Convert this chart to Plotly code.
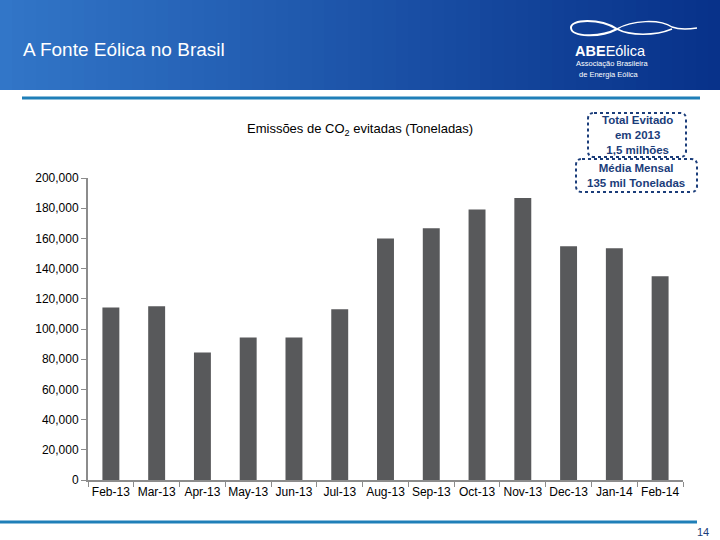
import plotly.graph_objects as go

months = ["Feb-13", "Mar-13", "Apr-13", "May-13", "Jun-13", "Jul-13", "Aug-13",
          "Sep-13", "Oct-13", "Nov-13", "Dec-13", "Jan-14", "Feb-14"]
co2_avoided = [114300, 115000, 84400, 94400, 94400, 113000, 160000,
               166800, 179200, 186700, 154800, 153500, 134900]
y_ticks = [0, 20000, 40000, 60000, 80000, 100000, 120000, 140000, 160000, 180000, 200000]

W, H = 720, 540
FONT = "Liberation Sans, Arial, sans-serif"
NAVY = "#1b3d7a"


def px(x):
    return x / W


def py(y):
    return 1 - y / H


def rounded_box(x0, y0, x1, y1, r=6):
    # path in paper coords from pixel corners
    return ("M %f %f L %f %f Q %f %f %f %f L %f %f Q %f %f %f %f "
            "L %f %f Q %f %f %f %f L %f %f Q %f %f %f %f Z") % (
        px(x0 + r), py(y0), px(x1 - r), py(y0), px(x1), py(y0), px(x1), py(y0 + r),
        px(x1), py(y1 - r), px(x1), py(y1), px(x1 - r), py(y1),
        px(x0 + r), py(y1), px(x0), py(y1), px(x0), py(y1 - r),
        px(x0), py(y0 + r), px(x0), py(y0), px(x0 + r), py(y0))


def curve(*pts):
    p = "M %f %f" % (px(pts[0][0]), py(pts[0][1]))
    rest = pts[1:]
    for i in range(0, len(rest), 3):
        a, b, c = rest[i:i + 3]
        p += " C %f %f, %f %f, %f %f" % (px(a[0]), py(a[1]), px(b[0]), py(b[1]), px(c[0]), py(c[1]))
    return p


fig = go.Figure()
fig.add_trace(go.Bar(x=months, y=co2_avoided, marker=dict(color="#58595b", line=dict(width=0)),
                     showlegend=False, hoverinfo="skip"))

shapes = []
# header banner as a stepped gradient
n = 60
c0, c1 = (50, 118, 200), (8, 50, 138)
for i in range(n):
    t = i / (n - 1)
    col = "rgb(%d,%d,%d)" % tuple(int(a + (b - a) * t) for a, b in zip(c0, c1))
    shapes.append(dict(type="rect", xref="paper", yref="paper", layer="below",
                       x0=i / n, x1=(i + 1) / n + 0.002, y0=py(90), y1=1,
                       fillcolor=col, line=dict(width=0)))
# rule lines
shapes.append(dict(type="line", xref="paper", yref="paper", x0=px(22), x1=px(700),
                   y0=py(98), y1=py(98), line=dict(color="#1f7fb8", width=3)))
shapes.append(dict(type="line", xref="paper", yref="paper", x0=px(0), x1=px(697),
                   y0=py(522), y1=py(522), line=dict(color="#1f7fb8", width=3)))
# logo swoosh
shapes.append(dict(type="path", xref="paper", yref="paper",
                   path=curve((617, 29), (600, 18), (570, 19), (571, 28),
                              (572, 37), (600, 38), (617, 29)),
                   line=dict(color="white", width=2)))
shapes.append(dict(type="path", xref="paper", yref="paper",
                   path=curve((617, 29), (632, 20), (660, 19), (672, 27),
                              (680, 30), (690, 29), (697, 28)),
                   line=dict(color="white", width=1.5)))
shapes.append(dict(type="path", xref="paper", yref="paper",
                   path=curve((617, 29), (630, 36), (655, 36), (672, 29)),
                   line=dict(color="white", width=1.5)))
# dotted rounded callout boxes
shapes.append(dict(type="path", xref="paper", yref="paper", path=rounded_box(588, 113, 686, 157),
                   fillcolor="white", line=dict(color=NAVY, width=2, dash="dot")))
shapes.append(dict(type="path", xref="paper", yref="paper", path=rounded_box(576, 159, 697, 192),
                   fillcolor="white", line=dict(color=NAVY, width=2, dash="dot")))

annotations = [
    dict(text="A Fonte Eólica no Brasil", x=px(21), y=py(49), xref="paper", yref="paper",
         xanchor="left", yanchor="middle", showarrow=False,
         font=dict(family=FONT, size=19, color="white")),
    dict(text="<b>ABE</b>Eólica", x=px(573), y=py(51), xref="paper", yref="paper",
         xanchor="left", yanchor="middle", showarrow=False,
         font=dict(family=FONT, size=14.5, color="white")),
    dict(text="Associação Brasileira", x=px(574), y=py(64), xref="paper",
         yref="paper", xanchor="left", yanchor="middle", showarrow=False,
         font=dict(family=FONT, size=7.5, color="white")),
    dict(text="de Energia Eólica", x=px(577), y=py(74), xref="paper",
         yref="paper", xanchor="left", yanchor="middle", showarrow=False,
         font=dict(family=FONT, size=7.5, color="white")),
    dict(text="Emissões de CO<sub>2</sub> evitadas (Toneladas)", x=px(360), y=py(130),
         xref="paper", yref="paper", xanchor="center", yanchor="middle", showarrow=False,
         font=dict(family=FONT, size=13, color="black")),
    dict(text="<b>Total Evitado<br>em 2013<br>1,5 milhões</b>", x=px(637), y=py(135),
         xref="paper", yref="paper", xanchor="center", yanchor="middle", showarrow=False,
         font=dict(family=FONT, size=11.5, color=NAVY)),
    dict(text="<b>Média Mensal<br>135 mil Toneladas</b>", x=px(636), y=py(175.5),
         xref="paper", yref="paper", xanchor="center", yanchor="middle", showarrow=False,
         font=dict(family=FONT, size=11.5, color=NAVY)),
    dict(text="14", x=px(711), y=py(532), xref="paper", yref="paper",
         xanchor="right", yanchor="middle", showarrow=False,
         font=dict(family=FONT, size=11, color=NAVY)),
]

fig.update_layout(
    template="none",
    width=W, height=H,
    margin=dict(l=0, r=0, t=0, b=0, pad=0, autoexpand=False),
    paper_bgcolor="white", plot_bgcolor="white",
    bargap=0.63,
    shapes=shapes, annotations=annotations,
    font=dict(family=FONT, size=12, color="black"),
    xaxis=dict(domain=[px(88), px(683)], showgrid=False, showline=True, linecolor="#8c8c8c",
               linewidth=2, ticks="outside", tickson="boundaries", ticklen=5,
               tickcolor="#8c8c8c", tickangle=0, tickfont=dict(size=12), automargin=False),
    yaxis=dict(domain=[py(480), py(178)], range=[0, 200000], tickvals=y_ticks,
               tickformat=",d", showgrid=False, showline=True, linecolor="#8c8c8c",
               linewidth=2, ticks="outside", ticklen=5, tickcolor="#8c8c8c",
               zeroline=False, tickfont=dict(size=12), automargin=False),
)

pin_page = (
    "document.documentElement.style.overflow='hidden';"
    "document.body.style.margin='0';"
    "document.body.style.overflow='hidden';"
    "var g=document.getElementsByClassName('plotly-graph-div')[0];"
    "g.style.position='fixed';g.style.top='0px';g.style.left='0px';"
)
fig.write_html("out.html", config={"displayModeBar": False}, post_script=pin_page)
